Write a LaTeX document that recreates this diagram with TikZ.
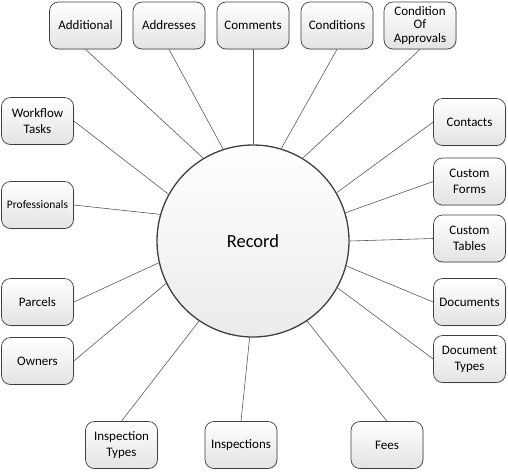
\documentclass[tikz,border=0pt]{standalone}
\usepackage{fontspec}
\setmainfont{Carlito}
\usetikzlibrary{shadows}
\begin{document}
\begin{tikzpicture}[x=1pt,y=-1pt,
 box/.style={draw=black!75, line width=0.7pt, rounded corners=9pt, minimum width=72pt, minimum height=47pt,
   top color=white, bottom color=black!11, align=center, inner sep=1pt,
   font=\fontsize{13}{16}\selectfont,
   drop shadow={shadow xshift=0.8pt, shadow yshift=-0.8pt, opacity=0.2}},
 tight/.style={font=\fontsize{13}{13.5}\selectfont},
 small/.style={font=\fontsize{11.5}{13.5}\selectfont},
 link/.style={draw=black!65, line width=0.6pt}]
\useasboundingbox (0,0) rectangle (508,472);
\node[circle, draw=black!75, line width=1.3pt, minimum size=192pt, top color=white, bottom color=black!8,
  font=\fontsize{18.5}{20}\selectfont] (rec) at (253,241) {Record};
% top row
\node[box] (add)  at (85.5,25.5) {Additional};
\node[box] (addr) at (169,25.5) {Addresses};
\node[box] (com)  at (253,25.5) {Comments};
\node[box] (cond) at (337,25.5) {Conditions};
\node[box,tight] (coa) at (420,25.5) {Condition\\Of\\Approvals};
% left column
\node[box] (wf)   at (37.5,121) {Workflow\\Tasks};
\node[box,small] (prof) at (37.5,205) {Professionals};
\node[box] (parc) at (37.5,302) {Parcels};
\node[box] (own)  at (37.5,361) {Owners};
% right column
\node[box] (cont) at (469.5,122) {Contacts};
\node[box] (cf)   at (469.5,181.5) {Custom\\Forms};
\node[box] (ct)   at (469.5,238.5) {Custom\\Tables};
\node[box] (docs) at (469.5,302) {Documents};
\node[box] (dt)   at (469.5,359) {Document\\Types};
% bottom row
\node[box] (it)   at (121.5,445) {Inspection\\Types};
\node[box] (insp) at (241,445) {Inspections};
\node[box] (fees) at (387,445) {Fees};
% connectors
\draw[link] (add.south)  -- (rec.121);
\draw[link] (addr.south) -- (rec.108);
\draw[link] (com.south)  -- (rec.90);
\draw[link] (cond.south) -- (rec.73);
\draw[link] (coa.south)  -- (rec.59);
\draw[link] (wf.east)    -- (rec.151);
\draw[link] (prof.east)  -- (rec.164);
\draw[link] (parc.east)  -- (rec.-167);
\draw[link] (own.east)   -- (rec.-154.5);
\draw[link] (cont.west)  -- (rec.30);
\draw[link] (cf.west)    -- (rec.17);
\draw[link] (ct.west)    -- (rec.0);
\draw[link] (docs.west)  -- (rec.-15);
\draw[link] (dt.west)    -- (rec.-29);
\draw[link] (it.north)   -- (rec.-124);
\draw[link] (insp.north) -- (rec.-92);
\draw[link] (fees.north) -- (rec.-56);
\end{tikzpicture}
\end{document}
